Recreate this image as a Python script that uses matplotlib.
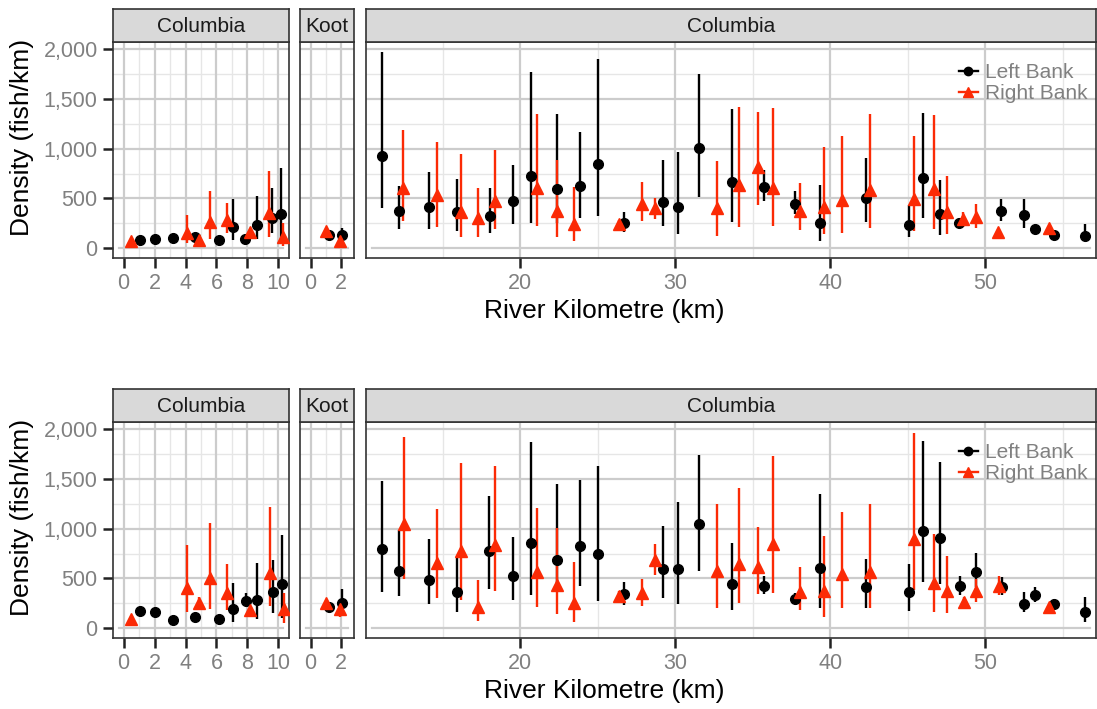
import matplotlib
matplotlib.use("Agg")
import matplotlib.pyplot as plt
from matplotlib.lines import Line2D
from matplotlib.ticker import MultipleLocator, FuncFormatter, FixedLocator

plt.rcParams["font.family"] = ["Liberation Sans", "DejaVu Sans"]

# reach codes: U = Columbia above Koot confluence, K = Kootenay, L = Columbia below
# ---- top plot ----
top_left_reach = ["U"] * 10 + ["K"] * 2 + ["L"] * 28
top_left_km = [1.03, 2.05, 3.17, 4.6, 6.14, 7.07, 7.87, 8.64, 9.61, 10.2,
               1.18, 2.07,
               11.1, 12.15, 14.09, 15.9, 18.02, 19.55, 20.69, 22.37, 23.83, 25.05,
               26.7, 29.2, 30.15, 31.53, 33.66, 35.74, 37.7, 39.35, 42.28, 45.1,
               45.98, 47.08, 48.34, 51.0, 52.5, 53.2, 54.45, 56.47]
top_left_dens = [85, 90, 100, 110, 85, 217, 95, 234, 301, 344,
                 134, 130,
                 930, 375, 415, 368, 324, 475, 726, 592, 625, 846,
                 258, 468, 415, 1010, 662, 619, 445, 258, 502, 234,
                 709, 344, 258, 375, 334, 194, 134, 127]
top_left_lo = [85, 90, 100, 95, 85, 84, 90, 90, 150, 50,
               134, 50,
               401, 190, 197, 177, 150, 244, 258, 251, 301, 324,
               167, 224, 144, 518, 261, 475, 341, 77, 261, 110,
               308, 134, 201, 278, 201, 194, 134, 84]
top_left_hi = [85, 90, 100, 125, 85, 495, 100, 528, 609, 803,
               134, 207,
               1967, 625, 766, 696, 609, 839, 1773, 1351, 1164, 1900,
               368, 886, 970, 1749, 1395, 786, 575, 635, 910, 435,
               1355, 686, 301, 492, 498, 194, 134, 241]

top_right_reach = ["U"] * 8 + ["K"] * 2 + ["L"] * 26
top_right_km = [0.45, 4.07, 4.87, 5.56, 6.68, 8.19, 9.4, 10.3,
                1.02, 1.96,
                12.45, 14.6, 16.2, 17.27, 18.39, 21.1, 22.37, 23.44, 26.4, 27.85,
                28.69, 32.67, 34.1, 35.31, 36.3, 38.06, 39.63, 40.75, 42.6, 45.42,
                46.69, 47.53, 48.6, 49.42, 50.82, 54.1]
top_right_dens = [70, 150, 85, 268, 284, 160, 351, 117,
                  177, 77,
                  602, 535, 368, 308, 475, 609, 375, 244, 241, 441,
                  408, 408, 635, 819, 609, 375, 418, 485, 585, 495,
                  592, 361, 291, 318, 167, 201]
top_right_lo = [70, 50, 85, 90, 150, 140, 117, 23,
                177, 77,
                278, 217, 117, 117, 190, 224, 117, 70, 190, 278,
                294, 124, 217, 435, 224, 184, 140, 150, 201, 177,
                197, 144, 217, 207, 167, 201]
top_right_hi = [70, 335, 85, 580, 458, 180, 773, 250,
                177, 77,
                1187, 1064, 943, 609, 987, 1351, 886, 612, 284, 662,
                508, 880, 1421, 1371, 1405, 652, 1020, 1130, 1344, 1127,
                1338, 726, 368, 445, 167, 201]

# ---- bottom plot ----
bot_left_reach = ["U"] * 10 + ["K"] * 2 + ["L"] * 29
bot_left_km = [1.03, 2.05, 3.19, 4.63, 6.14, 7.07, 7.89, 8.64, 9.66, 10.24,
               1.18, 2.07,
               11.1, 12.15, 14.1, 15.9, 18.0, 19.55, 20.7, 22.37, 23.83, 25.03,
               26.7, 29.2, 30.15, 31.53, 33.66, 35.74, 37.7, 39.35, 42.28, 45.1,
               45.98, 47.1, 48.39, 49.42, 51.08, 52.5, 53.2, 54.45, 56.47]
bot_left_dens = [177, 167, 87, 110, 97, 191, 278, 284, 361, 441,
                 211, 258,
                 796, 579, 485, 368, 779, 525, 860, 686, 829, 742,
                 341, 595, 595, 1047, 445, 428, 294, 602, 411, 361,
                 977, 910, 425, 562, 418, 244, 334, 241, 167]
bot_left_lo = [177, 167, 87, 110, 97, 60, 217, 94, 157, 100,
               211, 150,
               368, 328, 241, 167, 391, 281, 334, 418, 428, 278,
               234, 301, 244, 579, 184, 341, 244, 207, 201, 177,
               462, 445, 334, 418, 334, 160, 261, 200, 67]
bot_left_hi = [177, 167, 87, 110, 97, 452, 351, 652, 686, 936,
               211, 395,
               1478, 987, 893, 712, 1328, 920, 1866, 1448, 1488, 1632,
               462, 1030, 1271, 1739, 860, 528, 358, 1348, 696, 642,
               1880, 1666, 525, 752, 518, 368, 411, 290, 311]

bot_right_reach = ["U"] * 8 + ["K"] * 2 + ["L"] * 26
bot_right_km = [0.45, 4.1, 4.87, 5.56, 6.68, 8.19, 9.44, 10.34,
                1.02, 1.96,
                12.47, 14.62, 16.2, 17.27, 18.4, 21.1, 22.37, 23.44, 26.4, 27.85,
                28.69, 32.67, 34.13, 35.31, 36.3, 38.06, 39.63, 40.75, 42.6, 45.42,
                46.69, 47.53, 48.65, 49.42, 50.86, 54.1]
bot_right_dens = [90, 401, 258, 502, 358, 184, 559, 191,
                  258, 191,
                  1047, 652, 779, 217, 836, 562, 435, 258, 324, 351,
                  686, 579, 642, 612, 843, 361, 378, 542, 562, 896,
                  452, 378, 261, 378, 428, 217]
bot_right_lo = [90, 160, 184, 190, 184, 184, 227, 57,
                258, 117,
                492, 301, 284, 77, 375, 217, 144, 67, 268, 224,
                535, 207, 251, 341, 351, 184, 110, 201, 207, 385,
                160, 150, 207, 268, 334, 217]
bot_right_hi = [90, 836, 318, 1054, 642, 184, 1221, 351,
                258, 251,
                1916, 1194, 1655, 485, 1632, 1211, 1003, 662, 375, 495,
                846, 1244, 1405, 1020, 1729, 612, 930, 1171, 1247, 1956,
                943, 729, 318, 495, 528, 217]

y_major = [0, 500, 1000, 1500, 2000]
y_minor = [250, 750, 1250, 1750]

BLACK = "#000000"
RED = "#fb2a05"
W, H = 1097, 709

# panel layout in pixels: reach, strip label, left, right, xlim, major step
panels = [("U", "Columbia", 113, 289, (-0.69, 10.69), 2),
          ("K", "Koot", 300, 354, (-0.7, 2.85), 2),
          ("L", "Columbia", 366, 1096, (10.05, 57.15), 10)]
# rows: strip top, panel top, panel bottom, data
rows = [(9, 42, 258,
         [(top_left_reach, top_left_km, top_left_dens, top_left_lo, top_left_hi),
          (top_right_reach, top_right_km, top_right_dens, top_right_lo, top_right_hi)]),
        (389, 422, 638,
         [(bot_left_reach, bot_left_km, bot_left_dens, bot_left_lo, bot_left_hi),
          (bot_right_reach, bot_right_km, bot_right_dens, bot_right_lo, bot_right_hi)])]

fig = plt.figure(figsize=(W / 100, H / 100), dpi=100)

for s_top, p_top, p_bot, series in rows:
    for code, label, x0, x1, xlim, step in panels:
        ax = fig.add_axes([x0 / W, 1 - p_bot / H, (x1 - x0) / W, (p_bot - p_top) / H])
        ax.set_xlim(*xlim)
        ax.set_ylim(-97, 2070)
        ax.xaxis.set_major_locator(MultipleLocator(step))
        ax.xaxis.set_minor_locator(MultipleLocator(step / 2))
        ax.yaxis.set_major_locator(FixedLocator(y_major))
        ax.yaxis.set_minor_locator(FixedLocator(y_minor))
        ax.grid(axis="x", which="major", color="#cccccc", lw=1.6)
        ax.grid(axis="x", which="minor", color="#e6e6e6", lw=1.0)
        inset = 6 / (x1 - x0)
        for v in y_minor:
            ax.axhline(v, color="#e6e6e6", lw=1.0, zorder=0.5)
        for v in y_major:
            if v == 0:
                ax.axhline(v, xmin=inset, xmax=1 - inset, color="#cccccc", lw=1.6, zorder=0.6)
            else:
                ax.axhline(v, color="#cccccc", lw=1.6, zorder=0.6)
        ax.set_axisbelow(True)
        for sp in ax.spines.values():
            sp.set_color("#333333")
            sp.set_linewidth(1.2)
        ax.tick_params(which="major", direction="out", length=7, width=1.8,
                       color="#222222", labelcolor="#808080", labelsize=15.5, pad=4)
        ax.tick_params(which="minor", length=0)
        if code == "U":
            ax.yaxis.set_major_formatter(FuncFormatter(lambda v, p: f"{v:,.0f}"))
        else:
            ax.tick_params(axis="y", which="major", length=0, labelleft=False)

        for (reach, km, dens, lo, hi), col, mk, ms in zip(series, [BLACK, RED], ["o", "^"], [7, 8]):
            idx = [i for i, r in enumerate(reach) if r == code]
            xs = [km[i] for i in idx]
            ax.vlines(xs, [lo[i] for i in idx], [hi[i] for i in idx], color=col, lw=1.7, zorder=3)
            ax.plot(xs, [dens[i] for i in idx], linestyle="none", marker=mk, ms=ms,
                    color=col, mec=col, zorder=4)

        if code == "L":
            handles = [Line2D([], [], color=BLACK, marker="o", ms=6, lw=1.7),
                       Line2D([], [], color=RED, marker="^", ms=7, lw=1.7)]
            leg = ax.legend(handles, ["Left Bank", "Right Bank"], loc="upper right",
                            bbox_to_anchor=(1.0, 0.942), frameon=False, fontsize=15,
                            handlelength=0.9, handletextpad=0.35, labelspacing=0.1,
                            borderaxespad=0.0)
            for t in leg.get_texts():
                t.set_color("#808080")

        sax = fig.add_axes([x0 / W, 1 - p_top / H, (x1 - x0) / W, (p_top - s_top) / H])
        sax.set_facecolor("#d9d9d9")
        sax.set_xticks([])
        sax.set_yticks([])
        for sp in sax.spines.values():
            sp.set_color("#333333")
            sp.set_linewidth(1.2)
        sax.text(0.5, 0.48, label, transform=sax.transAxes, ha="center", va="center",
                 fontsize=15, color="#1a1a1a")

    fig.text(22 / W, 1 - (s_top + 128) / H, "Density (fish/km)", rotation=90,
             ha="center", va="center", fontsize=19)
    fig.text(604 / W, 1 - (p_bot + 53) / H, "River Kilometre (km)",
             ha="center", va="center", fontsize=19)

fig.savefig("out.png", dpi=100)
